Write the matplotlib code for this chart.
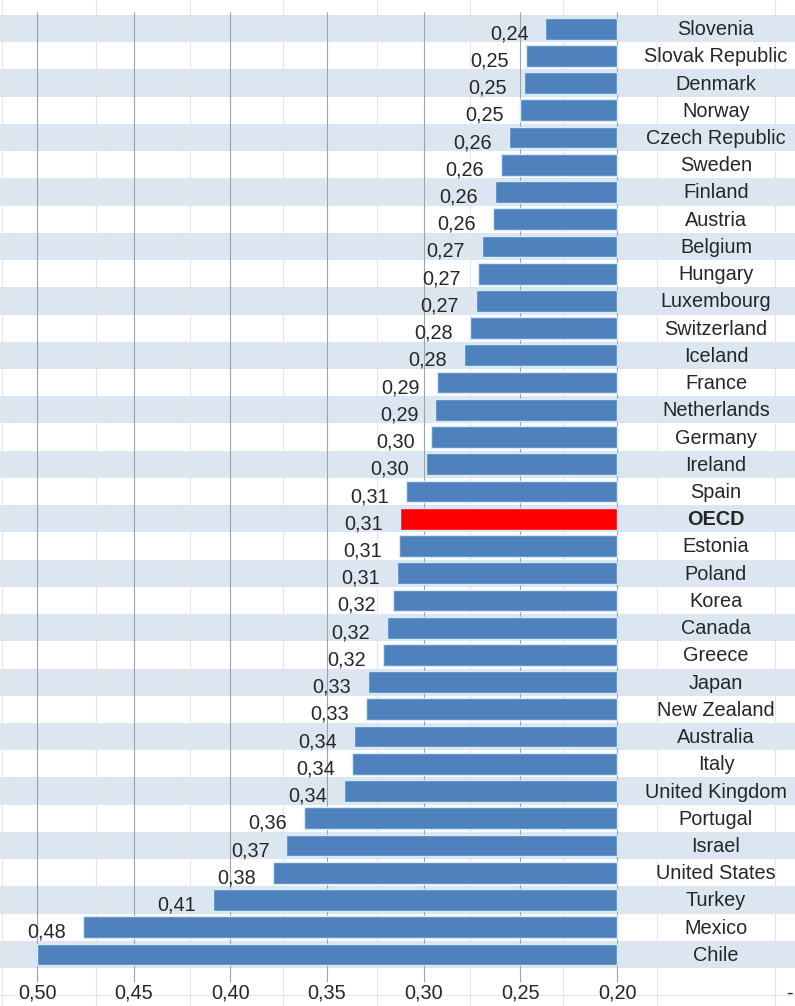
import numpy as np
import matplotlib
matplotlib.use('Agg')
import matplotlib.pyplot as plt
from matplotlib import transforms

plt.rcParams['font.family'] = ['Liberation Sans', 'DejaVu Sans']

countries = ['Slovenia', 'Slovak Republic', 'Denmark', 'Norway', 'Czech Republic',
             'Sweden', 'Finland', 'Austria', 'Belgium', 'Hungary', 'Luxembourg',
             'Switzerland', 'Iceland', 'France', 'Netherlands', 'Germany', 'Ireland',
             'Spain', 'OECD', 'Estonia', 'Poland', 'Korea', 'Canada', 'Greece',
             'Japan', 'New Zealand', 'Australia', 'Italy', 'United Kingdom',
             'Portugal', 'Israel', 'United States', 'Turkey', 'Mexico', 'Chile']
gini = [0.237, 0.247, 0.248, 0.250, 0.256,
        0.260, 0.263, 0.264, 0.270, 0.272, 0.273,
        0.276, 0.279, 0.293, 0.294, 0.296, 0.299,
        0.309, 0.312, 0.313, 0.314, 0.316, 0.319, 0.321,
        0.329, 0.330, 0.336, 0.337, 0.341,
        0.362, 0.371, 0.378, 0.409, 0.476, 0.50]
x_ticks = [0.50, 0.45, 0.40, 0.35, 0.30, 0.25, 0.20]

# layout in pixels of the 795x1006 canvas
W, H = 795, 1006
PX_050, PX_020 = 37, 617          # where 0.50 and 0.20 sit on the axis
TOP_PX, ROW_PX = 15, 27.23        # first row edge and row pitch
AX_MIN, AX_MAX = 0.50, 0.20

scale = (AX_MIN - AX_MAX) / (PX_020 - PX_050)


def row_y(px):
    return (px - TOP_PX) / ROW_PX - 0.5


BAR = '#4f81bd'
OECD_RED = '#ff0000'
STRIPE = '#dce6f1'
GRID = '#9ea3aa'
SHEET = '#e4e4e4'
TXT = '#262626'
FS = 14.3

fig = plt.figure(figsize=(W / 100, H / 100), dpi=100)
ax = fig.add_axes([0, 0, 1, 1])
ax.set_axis_off()
ax.set_xlim(AX_MIN + PX_050 * scale, AX_MAX - (W - PX_020) * scale)
ax.set_ylim(row_y(H), row_y(0))

blend = transforms.blended_transform_factory(ax.transAxes, ax.transData)
n = len(countries)
ys = np.arange(n)

# spreadsheet rows behind the chart
for i in ys:
    if i % 2 == 0:
        ax.axhspan(i - 0.5, i + 0.5, color=STRIPE, lw=0, zorder=0)
sheet_cols = [2.4, 96, 190, 283, 377, 470, 563, 657, 775]
ax.vlines([c / W for c in sheet_cols], row_y(H), row_y(0), transform=blend,
          colors=SHEET, lw=0.8, zorder=0.5)
ax.axhline(row_y(995), color=SHEET, lw=0.8, zorder=0.5)

# chart gridlines (with their tick stubs)
ax.vlines(x_ticks, row_y(12), row_y(982), colors=GRID, lw=0.8, zorder=1)

colors = [OECD_RED if c == 'OECD' else BAR for c in countries]
vals = np.array(gini)
ax.barh(ys, vals - AX_MAX, left=AX_MAX, height=0.80, color=colors,
        edgecolor='#d4ebfa', linewidth=1.0, zorder=2)

for i, (c, v) in enumerate(zip(countries, gini)):
    if v < AX_MIN:
        ax.annotate(f'{v:.2f}'.replace('.', ','), xy=(v, i), xytext=(-17, -5),
                    textcoords='offset pixels', ha='right', va='center',
                    fontsize=FS, color=TXT, zorder=3)
    ax.annotate(c, xy=(716 / W, i), xycoords=blend, xytext=(0, -1),
                textcoords='offset pixels', ha='center', va='center',
                fontsize=FS, color=TXT, zorder=3,
                fontweight='bold' if c == 'OECD' else 'normal')

for t in x_ticks:
    ax.text(t, row_y(993), f'{t:.2f}'.replace('.', ','), ha='center', va='center',
            fontsize=FS, color=TXT, zorder=3)
ax.text(789 / W, row_y(993), '-', transform=blend, ha='center', va='center',
        fontsize=FS, color=TXT)

fig.savefig('out.png', dpi=100)
